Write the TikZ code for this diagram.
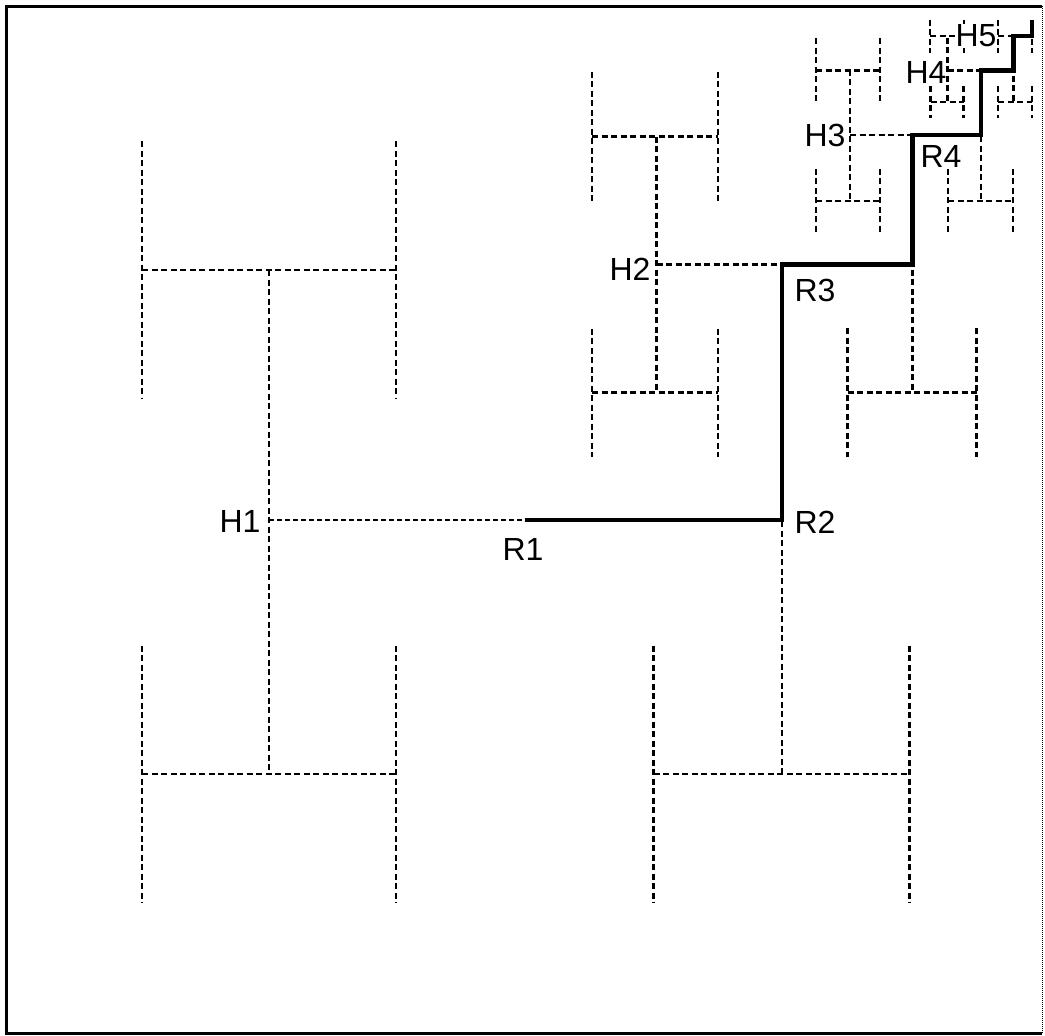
\documentclass[tikz,border=0pt]{standalone}
\usepackage{fontspec}
\setmainfont{Liberation Sans}
\tikzset{
  hline/.style={line width=2.3pt, dash pattern=on 6pt off 3.5pt},
  route/.style={line width=4.5pt, line join=miter},
  lab/.style={font=\fontsize{32}{38}\selectfont, inner sep=0pt, outer sep=0pt, fill=white, anchor=base west},
  frameline/.style={line width=3pt},
}
\newcommand{\HT}[4]{%
  \draw[hline] ({#1-#3},#2) -- ({#1+#3},#2);
  \draw[hline] ({#1-#3},{#2-#4}) -- ({#1-#3},{#2+#4});
  \draw[hline] ({#1+#3},{#2-#4}) -- ({#1+#3},{#2+#4});
}
\begin{document}
\begin{tikzpicture}[x=1pt,y=-1pt]
\useasboundingbox (0,0) rectangle (1045,1036);
% frame
\draw[frameline] (1042,6) -- (6,6) -- (6,1033) -- (1042,1033);
\draw[line width=1pt, densely dotted] (1042,6) -- (1042,1033);

% level 1/2
\coordinate (H1) at (269,520);
\coordinate (R1) at (525,520);
\coordinate (R2) at (782,520);
\draw[hline, dash pattern=on 5pt off 3pt] (H1) -- (R1);
\draw[hline] (269,270) -- (269,774);
\draw[hline] (782,264.5) -- (782,774);

% level 3/4
\HT{269}{270}{127}{129}
\HT{269}{774}{127}{128.5}
\HT{781.5}{774}{128}{128.5}
\HT{784.5}{264.5}{128}{128}

% level 5/6
\HT{655}{136.5}{63}{65}
\HT{655}{392.5}{63}{64}
\HT{912}{392.5}{64.5}{64.5}
\HT{915.5}{135}{65.5}{65.5}

% level 7/8
\HT{848}{70.5}{32}{32.5}
\HT{848}{201}{32}{32.5}
\HT{980.5}{201}{32.5}{32.5}
\HT{980.5}{70.5}{33}{33}

% level 9/10
\HT{947}{36}{17}{16.5}
\HT{947}{102}{16.5}{16}
\HT{1015}{102}{17}{16}
\HT{1015}{36}{17}{16.5}

% route
\coordinate (R3) at (782,264.5);
\coordinate (c3) at (912.5,264.5);
\coordinate (R4) at (912.5,135);
\coordinate (c4) at (981,135);
\coordinate (c5) at (981,70.5);
\coordinate (c6) at (1013.5,70.5);
\coordinate (c7) at (1013.5,36);
\coordinate (c8) at (1032,36);
\coordinate (c9) at (1032,19.5);
\draw[route] (R1) -- (R2) -- (R3) -- (c3) -- (R4) -- (c4) -- (c5) -- (c6) -- (c7) -- (c8) -- (c9);

% labels
\node[lab] (lH1) at (219.5,532) {H1};
\node[lab] (lR1) at (502.5,560) {R1};
\node[lab] (lR2) at (794.5,533) {R2};
\node[lab] (lH2) at (609.5,280) {H2};
\node[lab] (lR3) at (794.5,301.5) {R3};
\node[lab] (lH3) at (804.5,146.5) {H3};
\node[lab] (lR4) at (920.5,167) {R4};
\node[lab] (lH4) at (905.5,83) {H4};
\node[lab] (lH5) at (955.5,46.5) {H5};
\end{tikzpicture}
\end{document}
